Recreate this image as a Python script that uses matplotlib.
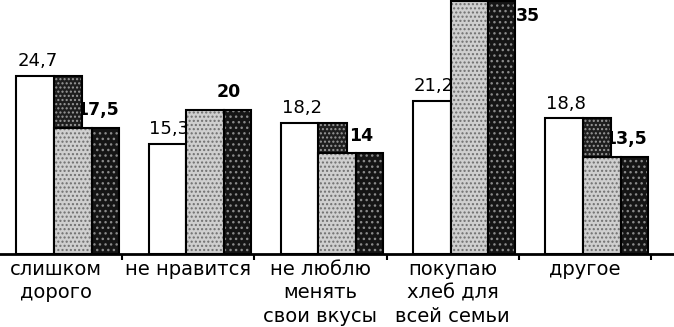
import matplotlib
matplotlib.use('Agg')
import matplotlib.pyplot as plt
import numpy as np

plt.rcParams['font.family'] = ['DejaVu Sans']

categories = ['слишком\nдорого', 'не нравится', 'не люблю\nменять\nсвои вкусы',
              'покупаю\nхлеб для\nвсей семьи', 'другое']
first = [24.7, 15.3, 18.2, 21.2, 18.8]
second = [17.5, 20, 14, 35, 13.5]

x = np.arange(len(categories))

fig = plt.figure(figsize=(6.74, 3.27), dpi=100)
ax = fig.add_axes([0, 0.2232, 1, 0.7768])

# white bars (first series)
ax.bar(x - 0.30, first, width=0.285, align='edge', color='white',
       edgecolor='black', linewidth=1.5, zorder=3)

# dark block behind the light bar
ax.bar(x - 0.015, first, width=0.215, align='edge', color='#1e1e1e',
       edgecolor='#9a9a9a', hatch='....', linewidth=0, zorder=2.5)
ax.bar(x - 0.015, first, width=0.215, align='edge', fill=False,
       edgecolor='black', linewidth=1.5, zorder=2.6)

# light speckled bars
ax.bar(x - 0.015, second, width=0.285, align='edge', color='#cfcfcf',
       edgecolor='#6f6f6f', hatch='....', linewidth=0, zorder=3)
ax.bar(x - 0.015, second, width=0.285, align='edge', fill=False,
       edgecolor='black', linewidth=1.5, zorder=3.1)

# dark speckled bars
ax.bar(x + 0.27, second, width=0.205, align='edge', color='#151515',
       edgecolor='#8a8a8a', hatch='...', linewidth=0, zorder=3)
ax.bar(x + 0.27, second, width=0.205, align='edge', fill=False,
       edgecolor='black', linewidth=1.5, zorder=3.1)

ylim_top = 35.2
for xi, a, b in zip(x, first, second):
    ax.annotate(f'{a:g}'.replace('.', ','), (xi - 0.1575, a), xytext=(1.5, 4),
                textcoords='offset points', ha='center', va='bottom',
                fontsize=13, zorder=1)
    if b > ylim_top - 3:
        ax.annotate(f'{b:g}'.replace('.', ','), (xi + 0.475, b), xytext=(0, -4),
                    textcoords='offset points', ha='left', va='top',
                    fontsize=12.5, fontweight='bold', zorder=2)
    else:
        ax.annotate(f'{b:g}'.replace('.', ','), (xi + 0.3725, b), xytext=(-6, 6),
                    textcoords='offset points', ha='center', va='bottom',
                    fontsize=12.5, fontweight='bold', zorder=2)

ax.set_xlim(-0.424, 4.674)
ax.set_ylim(0, ylim_top)

for s in ['left', 'right', 'top']:
    ax.spines[s].set_visible(False)
ax.spines['bottom'].set_linewidth(2)
ax.spines['bottom'].set_zorder(4)
ax.set_yticks([])

ax.set_xticks(np.append(x[:-1] + 0.5, 4.5))
ax.set_xticklabels([])
ax.tick_params(axis='x', which='major', direction='out', length=4, width=1.5)
ax.set_xticks(x, minor=True)
ax.set_xticklabels(categories, minor=True, fontsize=14, linespacing=1.32)
ax.tick_params(axis='x', which='minor', length=0, pad=4)

fig.savefig('out.png', dpi=100)
